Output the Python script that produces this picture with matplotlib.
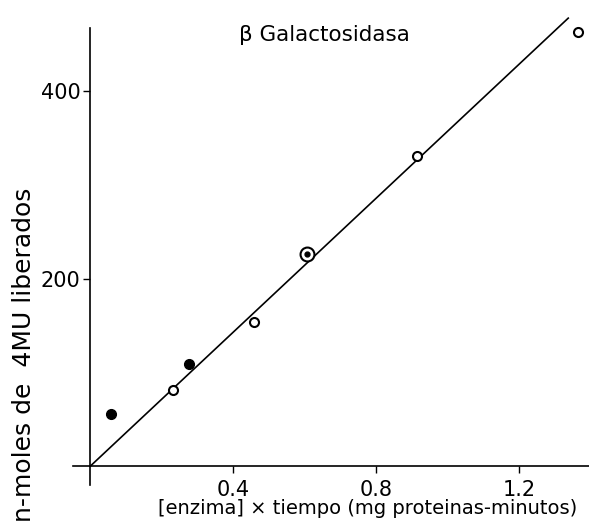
import matplotlib
matplotlib.use("Agg")
import matplotlib.pyplot as plt

# data
filled_x = [0.059, 0.277]
filled_y = [56, 109]
open_x = [0.232, 0.459, 0.915, 1.365]
open_y = [81, 154, 331, 463]
circled_x = [0.607]
circled_y = [226]
line_x = [0.0, 1.337]
line_y = [0.0, 478.0]
xticks = [0.4, 0.8, 1.2]
xticklabels = ["0.4", "0.8", "1.2"]
yticks = [200, 400]
yticklabels = ["200", "400"]

plt.rcParams['font.family'] = ['DejaVu Sans']

fig = plt.figure(figsize=(5.89, 5.22), dpi=100)
ax = fig.add_axes([0.124, 0.0709, 0.876, 0.910])
ax.set_xlim(-0.048, 1.395)
ax.set_ylim(-20, 486.7)

ax.plot(line_x, line_y, color='black', lw=1.2, zorder=2)
ax.plot(filled_x, filled_y, 'o', color='black', ms=7, zorder=3)
ax.plot(open_x, open_y, 'o', mfc='white', mec='black', mew=1.5, ms=6.5, zorder=3)
ax.plot(circled_x, circled_y, 'o', mfc='white', mec='black', mew=1.5, ms=10, zorder=3)
ax.plot(circled_x, circled_y, 'o', color='black', ms=3.5, zorder=4)

for s in ['top', 'right']:
    ax.spines[s].set_visible(False)
ax.spines['left'].set_position(('data', 0))
ax.spines['bottom'].set_position(('data', 0))
ax.spines['left'].set_bounds(-20, 467)
ax.spines['left'].set_linewidth(1.2)
ax.spines['bottom'].set_linewidth(1.2)

ax.set_xticks(xticks)
ax.set_xticklabels(xticklabels)
ax.set_yticks(yticks)
ax.set_yticklabels(yticklabels)
ax.tick_params(axis='x', direction='out', length=5, width=1, pad=5, labelsize=15)
ax.tick_params(axis='y', direction='out', length=5, width=1, pad=2, labelsize=15)

fig.text(0.625, 0.025, "[enzima] \u00d7 tiempo (mg proteinas-minutos)", ha='center',
         va='center', fontsize=14)
fig.text(0.040, 0.32, "n-moles de  4MU liberados", rotation=90, ha='center',
         va='center', fontsize=18)
fig.text(0.55, 0.933, "\u03b2 Galactosidasa", ha='center', va='center', fontsize=15.5)

fig.savefig("out.png", dpi=100)
